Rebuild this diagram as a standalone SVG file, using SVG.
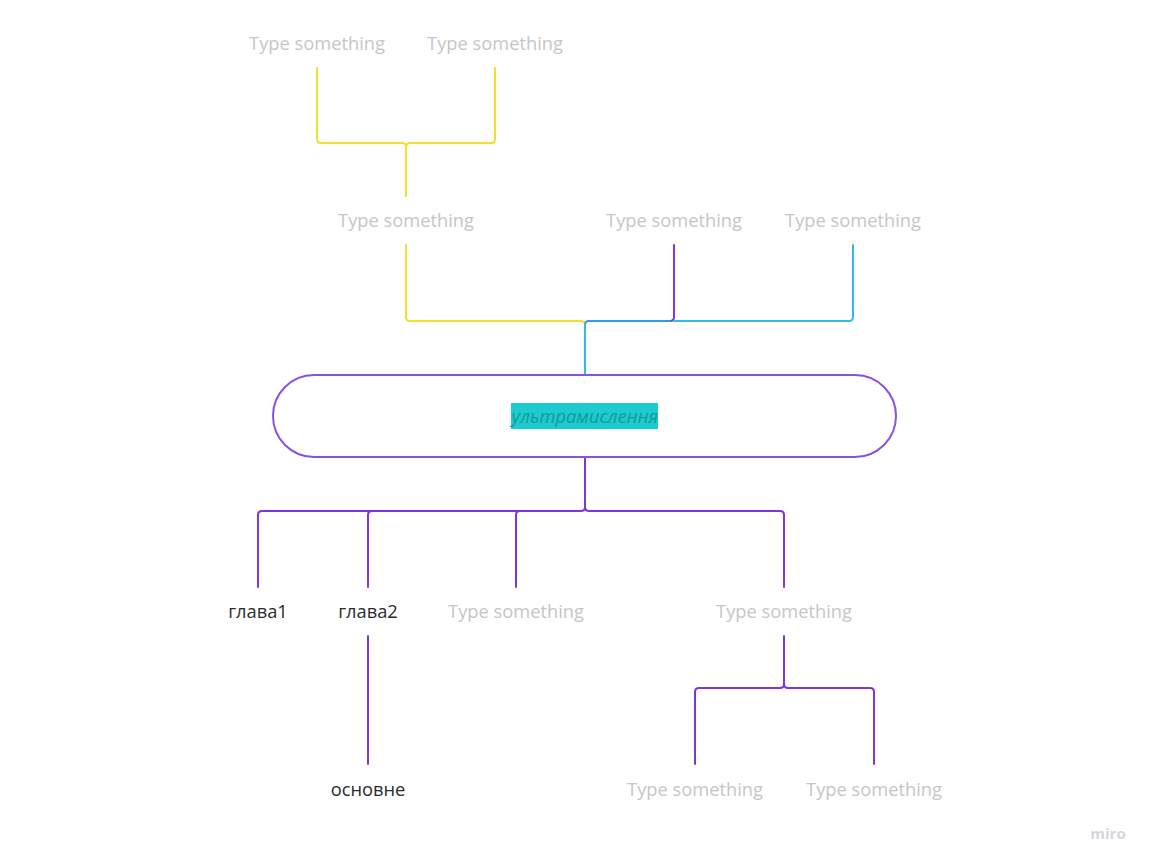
<svg xmlns="http://www.w3.org/2000/svg" width="1153" height="866" viewBox="0 0 1153 866">
<style>
.ph{font-family:"Open Sans","Liberation Sans",sans-serif;font-size:18.3px;fill:#c6c6c6;text-anchor:middle}
.tx{font-family:"Open Sans","Liberation Sans",sans-serif;font-size:18.3px;fill:#2b2b2b;text-anchor:middle}
.c{fill:none;stroke-width:2;stroke-linecap:round;stroke-linejoin:round}
.y{stroke:#f3e02b}
.p{stroke:#7d35e0}
.b{stroke:#2fbde3}
</style>
<rect width="1153" height="866" fill="#fff"/>
<g id="connectors">
<path class="c y" d="M317 68 V139 Q317 143 321 143 H402 Q406 143 406 147 V196"/>
<path class="c y" d="M495 68 V139 Q495 143 491 143 H410 Q406 143 406 147"/>
<path class="c y" d="M406 245 V317 Q406 321 410 321 H581 Q585 321 585 325"/>
<path class="c p" d="M674 245 V317 Q674 321 670 321 H666"/>
<path class="c b" d="M853 245 V317 Q853 321 849 321 H674"/>
<path class="c" stroke="#2a9fe6" d="M670 321 H589 Q585 321 585 325"/>
<path class="c b" d="M585 325 V375"/>
<path class="c p" d="M585 457 V507 Q585 511 581 511 H262 Q258 511 258 515 V587"/>
<path class="c p" d="M372 511 Q368 511 368 515 V587"/>
<path class="c p" d="M520 511 Q516 511 516 515 V587"/>
<path class="c p" d="M585 507 Q585 511 589 511 H780 Q784 511 784 515 V587"/>
<path class="c p" d="M368 636 V764"/>
<path class="c p" d="M784 636 V684 Q784 688 780 688 H699 Q695 688 695 692 V764"/>
<path class="c p" d="M784 684 Q784 688 788 688 H870 Q874 688 874 692 V764"/>
</g>
<g id="root">
<rect x="273" y="375" width="623" height="82" rx="41" fill="#fff" stroke="#8a4fe3" stroke-width="2"/>
<rect x="511" y="403" width="147" height="26" fill="#1ccbcf"/>
<text x="585" y="423" font-family="'Open Sans','Liberation Sans',sans-serif" font-size="18.3" font-style="italic" fill="#169a94" text-anchor="middle">ультрамислення</text>
</g>
<g id="n-top1"><text class="ph" x="317" y="50">Type something</text></g>
<g id="n-top2"><text class="ph" x="495" y="50">Type something</text></g>
<g id="n-mid1"><text class="ph" x="406" y="227">Type something</text></g>
<g id="n-mid2"><text class="ph" x="674" y="227">Type something</text></g>
<g id="n-mid3"><text class="ph" x="853" y="227">Type something</text></g>
<g id="n-glava1"><text class="tx" x="258" y="618">глава1</text></g>
<g id="n-glava2"><text class="tx" x="368" y="618">глава2</text></g>
<g id="n-b3"><text class="ph" x="516" y="618">Type something</text></g>
<g id="n-b4"><text class="ph" x="784" y="618">Type something</text></g>
<g id="n-osnovne"><text class="tx" x="368" y="796">основне</text></g>
<g id="n-b5"><text class="ph" x="695" y="796">Type something</text></g>
<g id="n-b6"><text class="ph" x="874" y="796">Type something</text></g>
<text x="1108" y="839" font-family="'Open Sans','Liberation Sans',sans-serif" font-size="15" font-weight="bold" fill="#d3d6e0" text-anchor="middle">miro</text>
</svg>
